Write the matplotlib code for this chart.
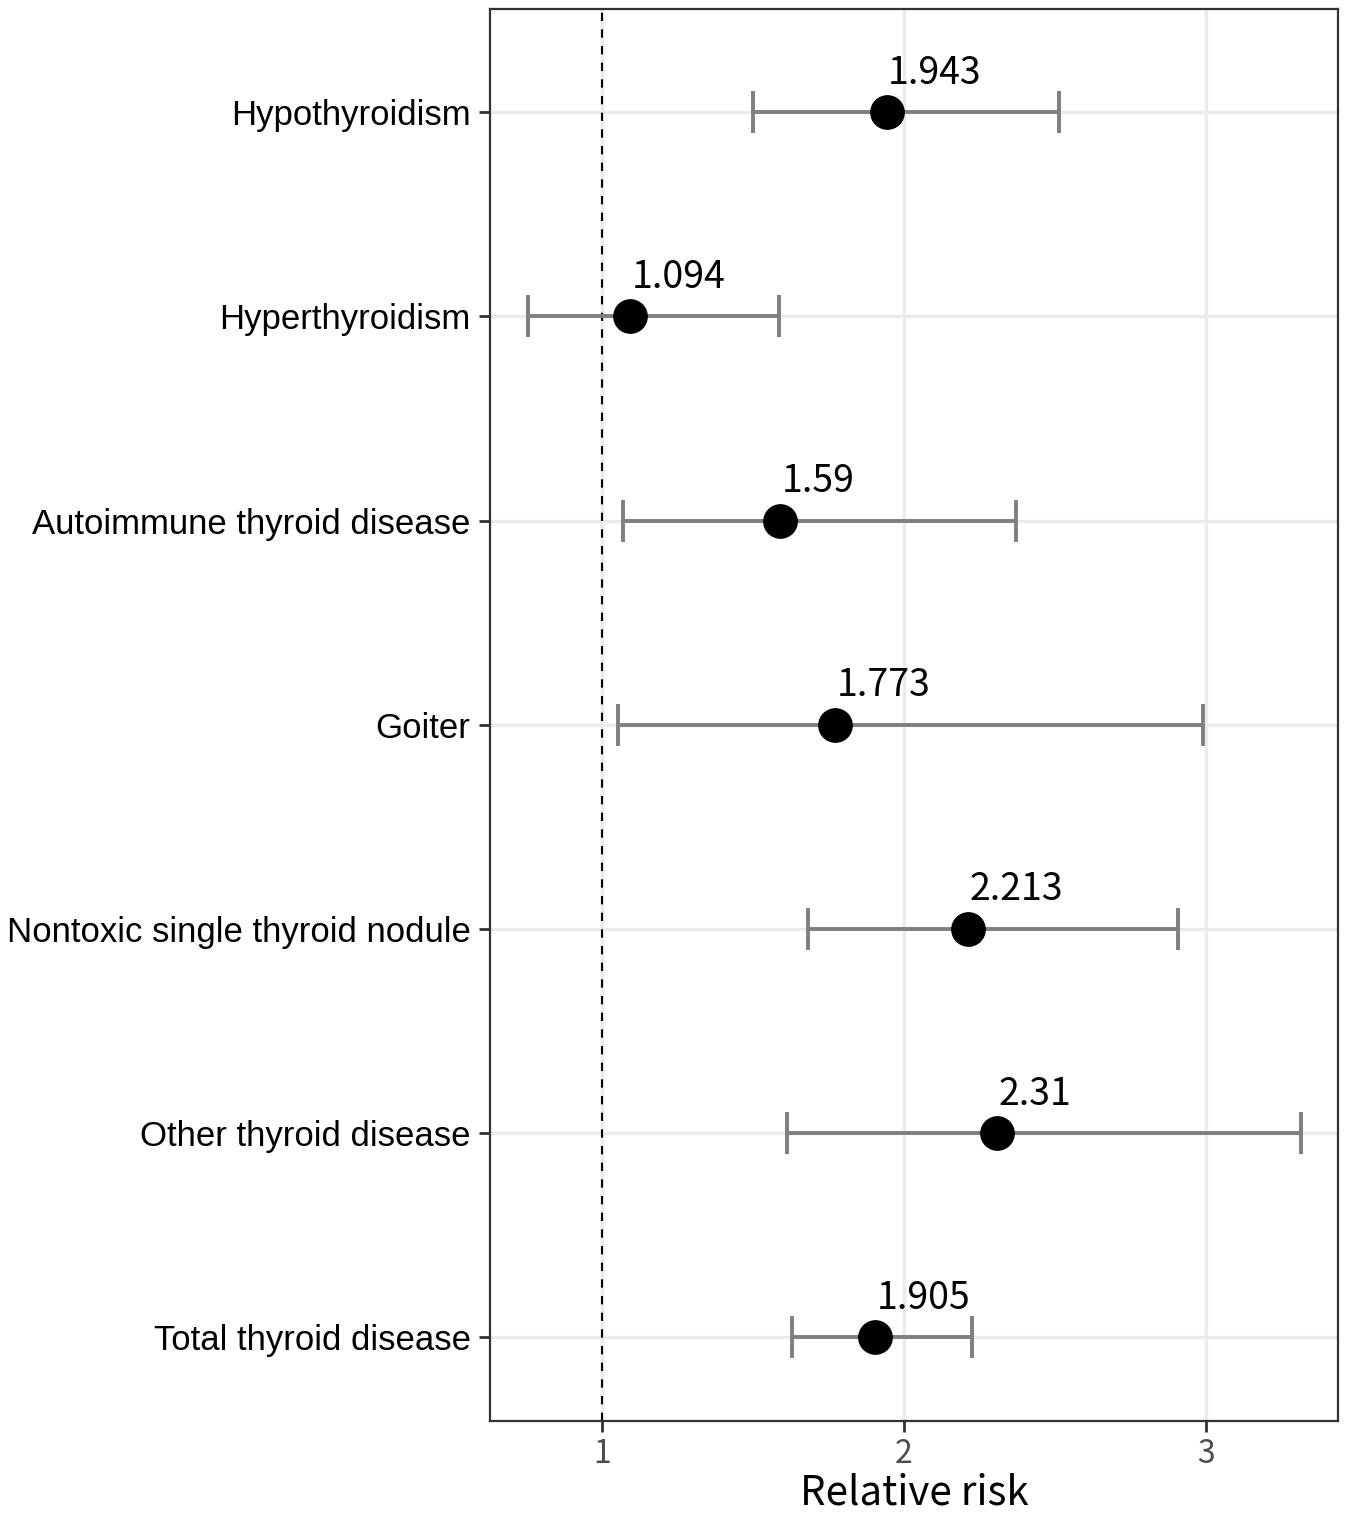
import matplotlib
matplotlib.use("Agg")
import matplotlib.pyplot as plt

# Forest plot of relative risk by thyroid outcome (top to bottom)
outcomes = [
    "Hypothyroidism",
    "Hyperthyroidism",
    "Autoimmune thyroid disease",
    "Goiter",
    "Nontoxic single thyroid nodule",
    "Other thyroid disease",
    "Total thyroid disease",
]
rr    = [1.943, 1.094, 1.59, 1.773, 2.213, 2.31, 1.905]
lower = [1.499, 0.755, 1.069, 1.053, 1.684, 1.612, 1.631]
upper = [2.514, 1.585, 2.372, 2.990, 2.907, 3.314, 2.226]
rr_labels = ["1.943", "1.094", "1.59", "1.773", "2.213", "2.31", "1.905"]
x_ticks = [1, 2, 3]

LABEL_FONT = ["Liberation Sans", "DejaVu Sans"]
NUM_FONT   = ["Noto Sans CJK KR", "Noto Sans", "DejaVu Sans"]

W, H = 1345, 1522
fig = plt.figure(figsize=(W / 100, H / 100), dpi=100)
ax = fig.add_axes([490 / W, 1 - 1421 / H, (1338 - 490) / W, (1421 - 9) / H])

n = len(outcomes)
ypos = [n - i for i in range(n)]

# grid (major only, like theme_bw with minor removed)
for xt in x_ticks:
    ax.axvline(xt, color="#EBEBEB", lw=2.4, zorder=0)
for y in ypos:
    ax.axhline(y, color="#EBEBEB", lw=2.4, zorder=0)

ax.axvline(1, color="black", lw=1.5, ls=(0, (4, 4)), zorder=1)

xerr = [[r - l for r, l in zip(rr, lower)], [u - r for r, u in zip(rr, upper)]]
ax.errorbar(rr, ypos, xerr=xerr, fmt="none", ecolor="#7F7F7F",
            elinewidth=2.8, capsize=15, capthick=2.8, zorder=2)
ax.plot(rr, ypos, "o", color="black", ms=24, zorder=3)

for x, y, lab in zip(rr, ypos, rr_labels):
    ax.annotate(lab, (x, y), xytext=(1.0, 14), textcoords="offset points",
                ha="left", va="bottom", fontsize=27, family=NUM_FONT,
                color="black", zorder=4)

ax.set_xlim(0.629, 3.438)
ax.set_ylim(1 - 0.41, n + 0.505)
ax.set_xticks(x_ticks)
ax.set_xticklabels([str(t) for t in x_ticks], family=NUM_FONT, fontsize=23,
                   color="#4D4D4D")
ax.set_yticks(ypos)
ax.set_yticklabels(outcomes, family=LABEL_FONT, fontsize=25, color="black")
ax.tick_params(axis="both", length=8, width=2, color="#333333")
ax.tick_params(axis="x", pad=4)
ax.tick_params(axis="y", pad=6)

for sp in ax.spines.values():
    sp.set_color("#333333")
    sp.set_linewidth(1.6)

ax.set_xlabel("Relative risk", family=NUM_FONT, fontsize=29, color="black",
              labelpad=2)

fig.savefig("out.png", dpi=100)
